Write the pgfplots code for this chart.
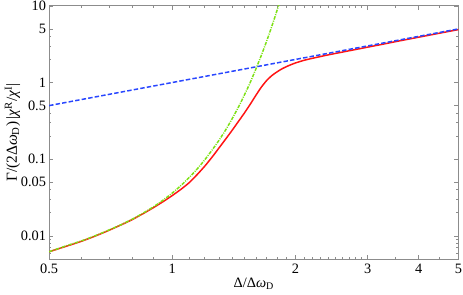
\documentclass[border=0pt]{standalone}
\usepackage{fontspec}
\setmainfont{Liberation Serif}
\usepackage{pgfplots}
\pgfplotsset{compat=1.18}

\definecolor{curvered}{RGB}{255,20,20}
\definecolor{curveblue}{RGB}{40,70,255}
\definecolor{curvegreen}{RGB}{125,225,20}
\definecolor{framegray}{RGB}{140,140,140}

\pgfplotstableread{
x y
0.5 0.0062
0.55 0.0073
0.6 0.0085
0.65 0.0100
0.7 0.0118
0.75 0.0139
0.8 0.0164
0.85 0.0196
0.9 0.0234
0.95 0.0280
1.0 0.0336
1.05 0.0405
1.1 0.0495
1.15 0.063
1.2 0.081
1.25 0.106
1.3 0.140
1.35 0.183
1.4 0.238
1.45 0.31
1.5 0.40
1.55 0.52
1.6 0.68
1.65 0.87
1.7 1.06
1.75 1.23
1.8 1.37
1.85 1.50
1.9 1.61
1.95 1.71
2.0 1.80
2.1 1.95
2.2 2.07
2.3 2.18
2.4 2.29
2.5 2.39
2.75 2.64
3.0 2.89
3.25 3.14
3.5 3.40
3.75 3.65
4.0 3.90
4.25 4.15
4.5 4.40
4.75 4.65
5.0 4.90
}\fullcurve

\pgfplotstableread{
x y
0.5 0.0062
0.55 0.0074
0.6 0.0086
0.65 0.0101
0.7 0.0119
0.75 0.0140
0.8 0.0166
0.85 0.0199
0.9 0.0240
0.95 0.0293
1.0 0.0362
1.05 0.0454
1.1 0.0578
1.15 0.0745
1.2 0.098
1.25 0.131
1.3 0.176
1.35 0.241
1.4 0.337
1.45 0.477
1.5 0.687
1.55 1.00
1.6 1.50
1.65 2.26
1.7 3.46
1.75 5.39
1.8 8.53
1.85 13.7
}\gausscurve

\pgfplotstableread{
x y
0.5 0.5
5.0 5.0
}\lorentzline

\begin{document}
\fontsize{14.5}{17}\selectfont
\begin{tikzpicture}
\begin{axis}[
  scale only axis,
  width=414pt, height=256pt,
  xmode=log, ymode=log,
  xmin=0.5, xmax=5, ymin=0.005, ymax=10,
  xtick={0.5,1,2,3,4,5},
  xticklabels={0.5,1,2,3,4,5},
  minor xtick={0.6,0.7,0.8,0.9,1.1,1.2,1.3,1.4,1.5,1.6,1.7,1.8,1.9,2.1,2.2,2.3,2.4,2.5,2.6,2.7,2.8,2.9,3.5,4.5},
  ytick={0.01,0.05,0.1,0.5,1,5,10},
  yticklabels={0.01,0.05,0.1,0.5,1,5,10},
  minor ytick={0.006,0.007,0.008,0.009,0.02,0.03,0.04,0.2,0.3,0.4,2,3,4},
  tick align=inside,
  major tick length=4pt,
  minor tick length=2.2pt,
  axis line style={framegray, line width=0.8pt},
  every tick/.style={framegray, line width=0.6pt},
  tick label style={font=\fontsize{14.5}{17}\selectfont, text=black, inner sep=1pt},
  yticklabel style={xshift=-2pt},
  xticklabel style={yshift=-4pt},
  every axis x label/.style={at={(axis description cs:0.5,0)}, anchor=center, yshift=-25pt},
  every axis y label/.style={at={(axis description cs:0,0.5)}, anchor=center, xshift=-37pt, rotate=90, font=\fontsize{15.5}{18}\selectfont},
  xlabel={Δ/Δ\textit{ω}\textsubscript{D}},
  ylabel={Γ/(2Δ\textit{ω}\textsubscript{D})\,|\textit{χ}\textsuperscript{R}/\textit{χ}\textsuperscript{I}|},
]
\addplot[curvered, line width=1.5pt, smooth, tension=0.4] table[x=x, y=y] {\fullcurve};
\addplot[curvegreen, line width=1.5pt, dash pattern=on 3.5pt off 1.2pt on 1pt off 1.2pt, smooth, tension=0.4] table[x=x, y=y] {\gausscurve};
\addplot[curveblue, line width=1.5pt, dash pattern=on 4.5pt off 2.2pt] table[x=x, y=y] {\lorentzline};
\end{axis}
\end{tikzpicture}
\end{document}
